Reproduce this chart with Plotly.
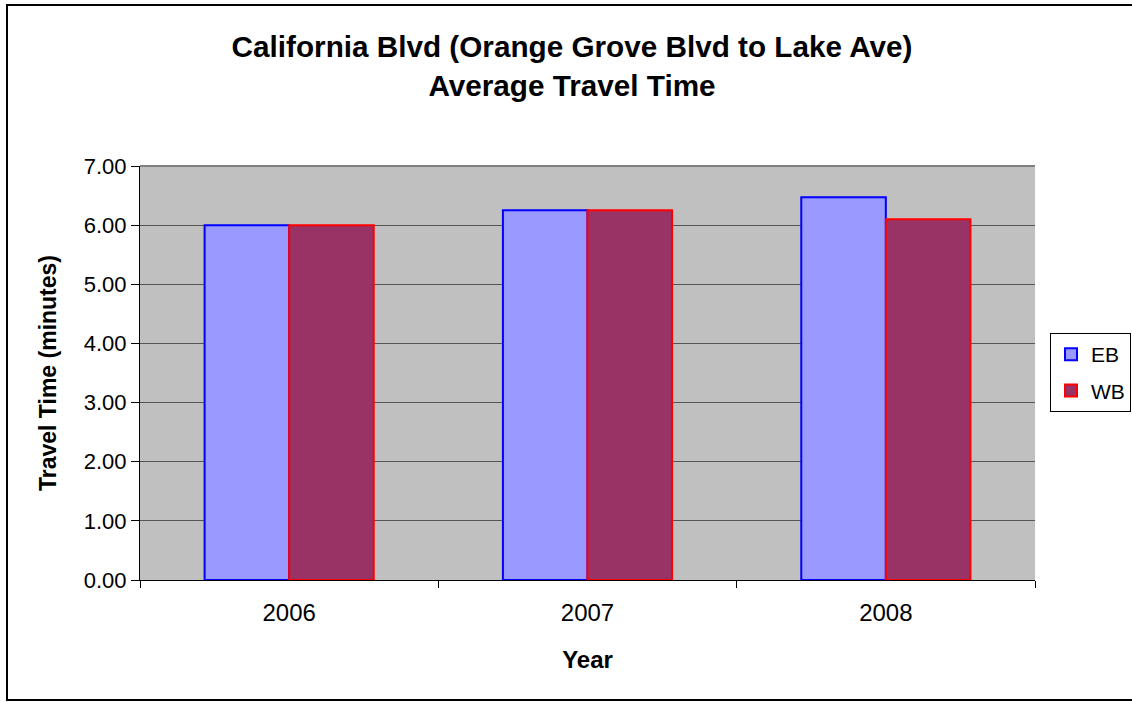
import plotly.graph_objects as go

years = ["2006", "2007", "2008"]
eb = [6.00, 6.25, 6.47]
wb = [6.00, 6.25, 6.10]
y_ticks = [0, 1, 2, 3, 4, 5, 6, 7]
y_tick_text = ["0.00", "1.00", "2.00", "3.00", "4.00", "5.00", "6.00", "7.00"]

W, H = 1132, 702
L, R, T, B = 140, 1035, 166, 580
pw, ph = R - L, B - T

def px(x):
    return (x - L) / pw

def py(y):
    return (B - y) / ph

fig = go.Figure()
fig.add_trace(go.Bar(name="EB", x=years, y=eb, legendgroup="eb",
                     marker=dict(color="#9999FF", line=dict(color="#0000FF", width=2))))
fig.add_trace(go.Bar(name="WB", x=years, y=wb, legendgroup="wb",
                     marker=dict(color="#993366", line=dict(color="#FF0000", width=2))))

fig.update_layout(
    width=W, height=H, autosize=False,
    margin=dict(l=L, r=W - R, t=T, b=H - B, autoexpand=False),
    paper_bgcolor="white",
    plot_bgcolor="#C0C0C0",
    barmode="group",
    bargap=0.433,
    bargroupgap=0,
    font=dict(family="Liberation Sans, Arial, sans-serif", color="black"),
    title=dict(
        text="<b>California Blvd (Orange Grove Blvd to Lake Ave)<br>Average Travel Time</b>",
        x=572 / W, xanchor="center", y=1 - 57 / H, yanchor="middle",
        font=dict(size=29.7),
    ),
    legend=dict(
        x=px(1131), xanchor="right", y=py(333), yanchor="top",
        bgcolor="white", bordercolor="black", borderwidth=1,
        font=dict(size=21), tracegroupgap=6,
    ),
    xaxis=dict(
        title=dict(text="<b>Year</b>", font=dict(size=24), standoff=26),
        showline=True, linecolor="black", linewidth=1,
        ticks="outside", tickson="boundaries", ticklen=7, tickcolor="black",
        tickfont=dict(size=24), ticklabelstandoff=11, showgrid=False,
    ),
    yaxis=dict(
        title=dict(text="<b>Travel Time (minutes)</b>", font=dict(size=23), standoff=20),
        range=[0, 7], tickvals=y_ticks, ticktext=y_tick_text,
        showline=True, linecolor="black", linewidth=1,
        ticks="outside", ticklen=8, tickcolor="black",
        tickfont=dict(size=22),
        showgrid=True, gridcolor="#555555", gridwidth=1,
        zeroline=False,
    ),
    shapes=[
        dict(type="rect", xref="paper", yref="paper",
             x0=px(7), x1=px(1140), y0=py(700), y1=py(5),
             line=dict(color="black", width=2), layer="below"),
        dict(type="line", xref="paper", yref="paper",
             x0=0, x1=1, y0=1, y1=1,
             line=dict(color="#808080", width=2), layer="below"),
    ],
)

fig.write_html(
    "out.html",
    config={"responsive": False, "displayModeBar": False},
    post_script="document.body.style.margin='0';document.body.style.overflow='hidden';",
)
